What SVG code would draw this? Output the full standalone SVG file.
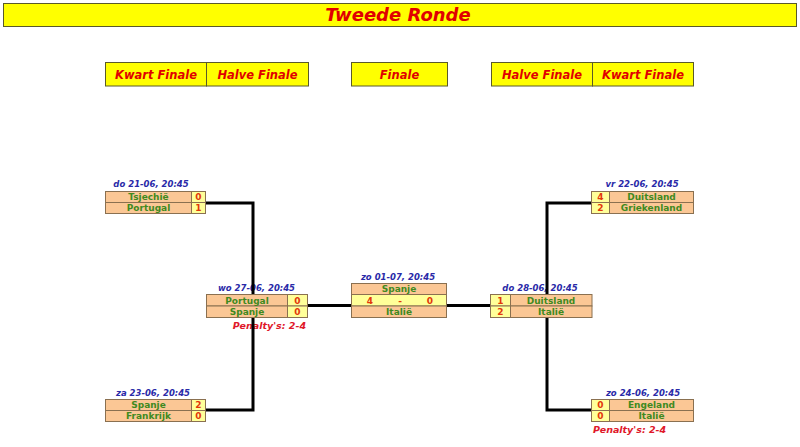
<svg xmlns="http://www.w3.org/2000/svg" width="800" height="447" viewBox="0 0 800 447">
<style>
.bg{fill:#ffffff}
.bar{fill:#ffff00;stroke:#5a5a2a;stroke-width:1}
.title{font-family:"DejaVu Sans",Verdana,sans-serif;font-weight:bold;font-style:italic;font-size:18px;fill:#e00000;text-anchor:middle}
.hdr{font-family:"DejaVu Sans",Verdana,sans-serif;font-weight:bold;font-style:italic;font-size:11.5px;fill:#e00000;text-anchor:middle}
.team{fill:#fbc795;stroke:#8a7050;stroke-width:1}
.score{fill:#ffff99;stroke:#8a7050;stroke-width:1}
.tt{font-family:"DejaVu Sans",Verdana,sans-serif;font-weight:bold;font-size:9px;fill:#3f8a1f;text-anchor:middle}
.st{font-family:"DejaVu Sans",Verdana,sans-serif;font-weight:bold;font-size:9px;fill:#e2380a;text-anchor:middle}
.dt{font-family:"DejaVu Sans",Verdana,sans-serif;font-weight:bold;font-style:italic;font-size:8.5px;fill:#2a2aa8;text-anchor:middle}
.pen{font-family:"DejaVu Sans",Verdana,sans-serif;font-weight:bold;font-style:italic;font-size:9.5px;fill:#e0182a}
.conn{fill:none;stroke:#000000;stroke-width:3}
</style>
<rect class="bg" x="0" y="0" width="800" height="447"/>

<g id="title">
<rect class="bar" x="3.5" y="3.5" width="793" height="23"/>
<text class="title" x="398" y="21">Tweede Ronde</text>
</g>

<g id="headers">
<rect class="bar" x="105.5" y="62.5" width="101" height="23.5"/>
<rect class="bar" x="206.5" y="62.5" width="102" height="23.5"/>
<rect class="bar" x="351.5" y="62.5" width="96" height="23.5"/>
<rect class="bar" x="491.5" y="62.5" width="101" height="23.5"/>
<rect class="bar" x="592.5" y="62.5" width="101" height="23.5"/>
<text class="hdr" x="156" y="78.5">Kwart Finale</text>
<text class="hdr" x="257.5" y="78.5">Halve Finale</text>
<text class="hdr" x="399.5" y="78.5">Finale</text>
<text class="hdr" x="542" y="78.5">Halve Finale</text>
<text class="hdr" x="643" y="78.5">Kwart Finale</text>
</g>

<g id="qf-left-1">
<text class="dt" x="151" y="186.5">do 21-06, 20:45</text>
<rect class="team" x="105.5" y="191.5" width="86" height="11"/>
<rect class="score" x="191.5" y="191.5" width="14" height="11"/>
<rect class="team" x="105.5" y="202.5" width="86" height="11"/>
<rect class="score" x="191.5" y="202.5" width="14" height="11"/>
<text class="tt" x="148.5" y="200">Tsjechië</text>
<text class="st" x="198.5" y="200">0</text>
<text class="tt" x="148.5" y="211">Portugal</text>
<text class="st" x="198.5" y="211">1</text>
</g>

<g id="qf-left-2">
<text class="dt" x="153" y="395.5">za 23-06, 20:45</text>
<rect class="team" x="105.5" y="399.5" width="86" height="11"/>
<rect class="score" x="191.5" y="399.5" width="14" height="11"/>
<rect class="team" x="105.5" y="410.5" width="86" height="11"/>
<rect class="score" x="191.5" y="410.5" width="14" height="11"/>
<text class="tt" x="148.5" y="408">Spanje</text>
<text class="st" x="198.5" y="408">2</text>
<text class="tt" x="148.5" y="419">Frankrijk</text>
<text class="st" x="198.5" y="419">0</text>
</g>

<g id="qf-right-1">
<text class="dt" x="642" y="186.5">vr 22-06, 20:45</text>
<rect class="score" x="591.5" y="191.5" width="18" height="11"/>
<rect class="team" x="609.5" y="191.5" width="84" height="11"/>
<rect class="score" x="591.5" y="202.5" width="18" height="11"/>
<rect class="team" x="609.5" y="202.5" width="84" height="11"/>
<text class="st" x="600.5" y="200">4</text>
<text class="tt" x="651.5" y="200">Duitsland</text>
<text class="st" x="600.5" y="211">2</text>
<text class="tt" x="651.5" y="211">Griekenland</text>
</g>

<g id="qf-right-2">
<text class="dt" x="643" y="395.5">zo 24-06, 20:45</text>
<rect class="score" x="591.5" y="399.5" width="18" height="11"/>
<rect class="team" x="609.5" y="399.5" width="84" height="11"/>
<rect class="score" x="591.5" y="410.5" width="18" height="11"/>
<rect class="team" x="609.5" y="410.5" width="84" height="11"/>
<text class="st" x="600.5" y="408">0</text>
<text class="tt" x="651.5" y="408">Engeland</text>
<text class="st" x="600.5" y="419">0</text>
<text class="tt" x="651.5" y="419">Italië</text>
<text class="pen" x="593" y="432.5">Penalty's: 2-4</text>
</g>

<g id="sf-left">
<text class="dt" x="256.5" y="290.5">wo 27-06, 20:45</text>
<rect class="team" x="206.5" y="294.5" width="81" height="11.5"/>
<rect class="score" x="287.5" y="294.5" width="20" height="11.5"/>
<rect class="team" x="206.5" y="306" width="81" height="11.5"/>
<rect class="score" x="287.5" y="306" width="20" height="11.5"/>
<text class="tt" x="247" y="303.5">Portugal</text>
<text class="st" x="297.5" y="303.5">0</text>
<text class="tt" x="247" y="315">Spanje</text>
<text class="st" x="297.5" y="315">0</text>
<text class="pen" x="306" y="328.5" text-anchor="end">Penalty's: 2-4</text>
</g>

<g id="final">
<text class="dt" x="398" y="279.5">zo 01-07, 20:45</text>
<rect class="team" x="351.5" y="283.5" width="95" height="11"/>
<rect class="score" x="351.5" y="294.5" width="95" height="11.5"/>
<rect class="team" x="351.5" y="306" width="95" height="11.5"/>
<text class="tt" x="399" y="292">Spanje</text>
<text class="st" x="370" y="303.5">4</text>
<text class="st" x="400" y="303.5">-</text>
<text class="st" x="430" y="303.5">0</text>
<text class="tt" x="399" y="315">Italië</text>
</g>

<g id="sf-right">
<text class="dt" x="540" y="290.5">do 28-06, 20:45</text>
<rect class="score" x="490.5" y="294.5" width="20" height="11.5"/>
<rect class="team" x="510.5" y="294.5" width="81.5" height="11.5"/>
<rect class="score" x="490.5" y="306" width="20" height="11.5"/>
<rect class="team" x="510.5" y="306" width="81.5" height="11.5"/>
<text class="st" x="500.5" y="303.5">1</text>
<text class="tt" x="551" y="303.5">Duitsland</text>
<text class="st" x="500.5" y="315">2</text>
<text class="tt" x="551" y="315">Italië</text>
</g>

<g id="connectors">
<path class="conn" d="M206,203 H253 V294"/>
<path class="conn" d="M253,318 V410 H206"/>
<path class="conn" d="M308,305.5 H351"/>
<path class="conn" d="M447,305.5 H490"/>
<path class="conn" d="M591,203 H547 V294"/>
<path class="conn" d="M547,318 V410 H591"/>
</g>
</svg>
